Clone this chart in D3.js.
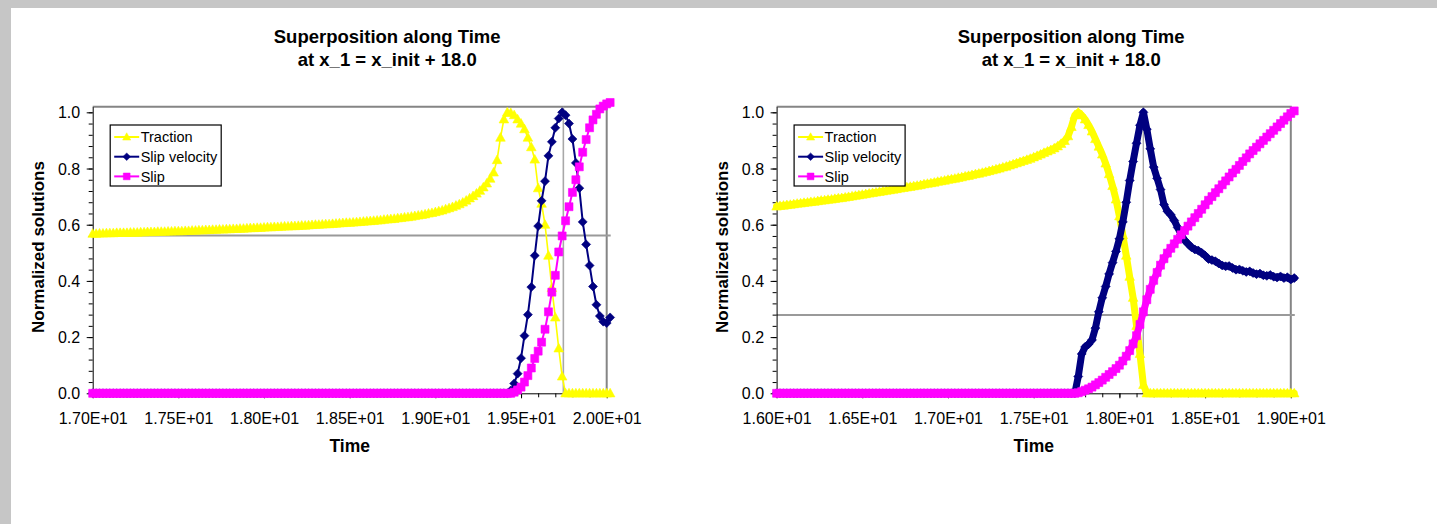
<!DOCTYPE html>
<html><head><meta charset="utf-8">
<script src="https://cdn.jsdelivr.net/npm/d3@7"></script>
<style>
html,body{margin:0;padding:0;background:#fff;overflow:hidden;}
svg{display:block;font-family:"Liberation Sans",Arial,sans-serif;}
</style>
</head><body>
<svg id="c" width="1437" height="524"></svg>
<script>
// ---------------- DATA ----------------
const seriesNames = ["Traction", "Slip velocity", "Slip"];
const chartTitle = ["Superposition along Time", "at x_1 = x_init + 18.0"];
const xAxisTitle = "Time";
const yAxisTitle = "Normalized solutions";

const yTicks = [0, 0.2, 0.4, 0.6, 0.8, 1.0];
const yTickLabels = ["0.0", "0.2", "0.4", "0.6", "0.8", "1.0"];

// left chart: time 17.00 ... 20.02, step 0.02
const leftTimeStart = 17.00;
const leftTimeStep = 0.02;
const leftXTicks = [17.0, 17.5, 18.0, 18.5, 19.0, 19.5, 20.0];
const leftXTickLabels = ["1.70E+01", "1.75E+01", "1.80E+01", "1.85E+01", "1.90E+01", "1.95E+01", "2.00E+01"];
const leftCursor = [19.747, 0.562];

const leftTraction = [
0.568,0.568,0.569,0.569,0.570,0.570,0.570,0.571,0.571,0.571,
0.571,0.572,0.572,0.572,0.573,0.573,0.574,0.574,0.574,0.575,
0.575,0.575,0.576,0.576,0.577,0.577,0.577,0.578,0.578,0.579,
0.579,0.580,0.580,0.581,0.581,0.582,0.582,0.583,0.583,0.584,
0.584,0.585,0.585,0.586,0.586,0.587,0.588,0.588,0.589,0.589,
0.590,0.591,0.591,0.592,0.592,0.593,0.594,0.594,0.595,0.595,
0.596,0.597,0.597,0.598,0.599,0.600,0.600,0.601,0.602,0.602,
0.603,0.604,0.605,0.606,0.607,0.607,0.608,0.609,0.610,0.611,
0.612,0.613,0.614,0.615,0.616,0.618,0.619,0.620,0.621,0.623,
0.624,0.626,0.627,0.629,0.631,0.633,0.635,0.637,0.640,0.642,
0.645,0.648,0.651,0.655,0.659,0.663,0.668,0.673,0.679,0.686,
0.694,0.702,0.711,0.721,0.733,0.747,0.764,0.786,0.830,0.910,
0.975,1.000,0.998,0.990,0.975,0.960,0.940,0.910,0.876,0.832,
0.730,0.675,0.600,0.490,0.375,0.270,0.160,0.060,0.000,0.000,
0,0,0,0,0,0,0,0,0,0,
0,0];

const leftSlipVelocity = [
0,0,0,0,0,0,0,0,0,0, 0,0,0,0,0,0,0,0,0,0, 0,0,0,0,0,0,0,0,0,0,
0,0,0,0,0,0,0,0,0,0, 0,0,0,0,0,0,0,0,0,0, 0,0,0,0,0,0,0,0,0,0,
0,0,0,0,0,0,0,0,0,0, 0,0,0,0,0,0,0,0,0,0, 0,0,0,0,0,0,0,0,0,0,
0,0,0,0,0,0,0,0,0,0, 0,0,0,0,0,0,0,0,0,0, 0,0,0,0,0,0,0,0,0,0,
0,0,0.010,0.035,0.070,0.125,0.205,0.280,0.378,0.490,
0.595,0.685,0.755,0.845,0.895,0.945,0.978,1.000,0.990,0.960,
0.905,0.820,0.730,0.610,0.530,0.455,0.380,0.315,0.275,0.255,
0.250,0.270];

const leftSlip = [
0,0,0,0,0,0,0,0,0,0, 0,0,0,0,0,0,0,0,0,0, 0,0,0,0,0,0,0,0,0,0,
0,0,0,0,0,0,0,0,0,0, 0,0,0,0,0,0,0,0,0,0, 0,0,0,0,0,0,0,0,0,0,
0,0,0,0,0,0,0,0,0,0, 0,0,0,0,0,0,0,0,0,0, 0,0,0,0,0,0,0,0,0,0,
0,0,0,0,0,0,0,0,0,0, 0,0,0,0,0,0,0,0,0,0, 0,0,0,0,0,0,0,0,0,0,
0,0,0,0.004,0.012,0.022,0.040,0.063,0.090,0.124,
0.150,0.182,0.228,0.290,0.360,0.420,0.503,0.560,0.614,0.664,
0.715,0.760,0.806,0.858,0.903,0.945,0.973,0.993,1.012,1.022,
1.030,1.035];

// right chart: time 16.00 ... 19.02, step 0.02
const rightTimeStart = 16.00;
const rightTimeStep = 0.02;
const rightXTicks = [16.0, 16.5, 17.0, 17.5, 18.0, 18.5, 19.0];
const rightXTickLabels = ["1.60E+01", "1.65E+01", "1.70E+01", "1.75E+01", "1.80E+01", "1.85E+01", "1.90E+01"];
const rightCursor = [18.139, 0.279];

const rightTraction = [
0.665,0.667,0.668,0.670,0.671,0.673,0.675,0.676,0.678,0.679,
0.681,0.682,0.684,0.686,0.687,0.689,0.690,0.692,0.694,0.695,
0.697,0.699,0.701,0.703,0.705,0.707,0.709,0.711,0.713,0.715,
0.717,0.719,0.721,0.723,0.725,0.727,0.729,0.731,0.733,0.735,
0.737,0.739,0.741,0.744,0.746,0.748,0.750,0.753,0.755,0.757,
0.760,0.762,0.764,0.767,0.769,0.772,0.774,0.777,0.780,0.782,
0.785,0.788,0.791,0.794,0.797,0.800,0.804,0.807,0.811,0.815,
0.819,0.823,0.827,0.831,0.835,0.840,0.845,0.850,0.856,0.861,
0.866,0.872,0.879,0.888,0.898,0.915,0.948,0.990,1.000,0.990,
0.975,0.955,0.932,0.905,0.878,0.850,0.818,0.780,0.738,0.690,
0.630,0.563,0.490,0.415,0.340,0.240,0.140,0.030,0.000,0.000,
0,0,0,0,0,0,0,0,0,0, 0,0,0,0,0,0,0,0,0,0,
0,0,0,0,0,0,0,0,0,0, 0,0,0,0,0,0,0,0,0,0,
0,0];

const rightSlipVelocity = [
0,0,0,0,0,0,0,0,0,0, 0,0,0,0,0,0,0,0,0,0, 0,0,0,0,0,0,0,0,0,0,
0,0,0,0,0,0,0,0,0,0, 0,0,0,0,0,0,0,0,0,0, 0,0,0,0,0,0,0,0,0,0,
0,0,0,0,0,0,0,0,0,0, 0,0,0,0,0,0,0,0,0,0,
0,0,0,0,0,0,0,0,0.060,0.140,
0.165,0.175,0.190,0.232,0.290,0.340,0.380,0.425,0.465,0.505,
0.550,0.610,0.680,0.757,0.825,0.890,0.954,1.000,0.940,0.870,
0.805,0.765,0.725,0.672,0.648,0.635,0.615,0.590,0.565,0.545,
0.532,0.520,0.512,0.508,0.500,0.490,0.478,0.474,0.470,0.462,
0.455,0.452,0.453,0.446,0.440,0.441,0.436,0.432,0.434,0.428,
0.424,0.426,0.420,0.418,0.421,0.415,0.412,0.416,0.410,0.413,
0.405,0.410];

const rightSlip = [
0,0,0,0,0,0,0,0,0,0, 0,0,0,0,0,0,0,0,0,0, 0,0,0,0,0,0,0,0,0,0,
0,0,0,0,0,0,0,0,0,0, 0,0,0,0,0,0,0,0,0,0, 0,0,0,0,0,0,0,0,0,0,
0,0,0,0,0,0,0,0,0,0, 0,0,0,0,0,0,0,0,0,0,
0,0,0,0,0,0,0,0,0.002,0.006,
0.011,0.016,0.022,0.030,0.038,0.047,0.057,0.067,0.077,0.088,
0.100,0.115,0.132,0.152,0.176,0.205,0.245,0.290,0.333,0.370,
0.402,0.430,0.456,0.479,0.499,0.516,0.532,0.548,0.564,0.579,
0.595,0.610,0.625,0.640,0.655,0.671,0.687,0.700,0.714,0.728,
0.742,0.756,0.770,0.784,0.797,0.811,0.825,0.838,0.852,0.864,
0.876,0.888,0.900,0.912,0.924,0.936,0.948,0.960,0.972,0.984,
0.996,1.005];

// ---------------- STYLE ----------------
const seriesColors = ["#FFFF00", "#000080", "#FF00FF"];
const markerPaths = [
  "M0,-5L4.8,3.6L-4.8,3.6Z",         // triangle
  "M0,-4.5L4.5,0L0,4.5L-4.5,0Z",     // diamond
  "M-4,-4H4V4H-4Z"                   // square
];

const W = 1437, H = 524;
const svg = d3.select("#c");
svg.append("rect").attr("width", W).attr("height", H).attr("fill", "#c6c6c6");
svg.append("rect").attr("x", 11).attr("y", 8).attr("width", W - 11).attr("height", H - 8).attr("fill", "#ffffff");

function drawChart(cfg) {
  const x = d3.scaleLinear().domain(cfg.xDomain).range([cfg.x0, cfg.x1]);
  const y = d3.scaleLinear().domain([0, 1.02]).range([393.3, 106.7]);
  const g = svg.append("g");
  const cx = (cfg.x0 + cfg.x1) / 2;

  // title
  const tt = g.append("text").attr("x", cx + 37.5).attr("text-anchor", "middle")
    .attr("font-weight", "bold").attr("font-size", 18.5).attr("fill", "#000");
  tt.append("tspan").attr("x", cx + 37.5).attr("y", 43).text(chartTitle[0]);
  tt.append("tspan").attr("x", cx + 37.5).attr("y", 66).text(chartTitle[1]);

  // plot border (top/right)
  g.append("path")
    .attr("d", `M${cfg.x0},${y(1.02)}H${cfg.x1}V${y(0)}`)
    .attr("fill", "none").attr("stroke", "#858585").attr("stroke-width", 2);

  // cursor lines
  g.append("line")
    .attr("x1", cfg.x0).attr("x2", cfg.x1 + 4)
    .attr("y1", y(cfg.cursor[1])).attr("y2", y(cfg.cursor[1]))
    .attr("stroke", "#9a9a9a").attr("stroke-width", 2);
  g.append("line")
    .attr("x1", x(cfg.cursor[0])).attr("x2", x(cfg.cursor[0]))
    .attr("y1", y(1.02)).attr("y2", y(0))
    .attr("stroke", cfg.vColor).attr("stroke-width", cfg.vWidth);

  // minor ticks
  const minorX = d3.range(cfg.xDomain[0], cfg.xDomain[1] + 1e-9, 0.1);
  const minorY = d3.range(0, 1.0001, 0.04);
  const mx = g.append("g").attr("transform", `translate(0,${y(0)})`)
    .call(d3.axisBottom(x).tickValues(minorX).tickFormat("").tickSize(4));
  mx.select(".domain").remove();
  mx.selectAll("line").attr("stroke", "#000");
  const my = g.append("g").attr("transform", `translate(${cfg.x0},0)`)
    .call(d3.axisLeft(y).tickValues(minorY).tickFormat("").tickSize(4));
  my.select(".domain").remove();
  my.selectAll("line").attr("stroke", "#000");

  // major axes
  const ax = g.append("g").attr("transform", `translate(0,${y(0)})`)
    .call(d3.axisBottom(x).tickValues(cfg.xTicks).tickFormat((d, i) => cfg.xTickLabels[i])
      .tickSizeInner(5).tickSizeOuter(0));
  ax.select(".domain").attr("stroke", "#000");
  ax.selectAll("line").attr("stroke", "#000");
  ax.selectAll("text").attr("y", 31).attr("dy", 0)
    .attr("font-size", 16).attr("textLength", 69).attr("lengthAdjust", "spacingAndGlyphs")
    .attr("font-family", "Liberation Sans, Arial, sans-serif").attr("fill", "#000");

  const ay = g.append("g").attr("transform", `translate(${cfg.x0},0)`)
    .call(d3.axisLeft(y).tickValues(yTicks).tickFormat((d, i) => yTickLabels[i])
      .tickSizeInner(6).tickSizeOuter(0).tickPadding(6.5));
  ay.select(".domain").attr("stroke", "#000");
  ay.selectAll("line").attr("stroke", "#000");
  ay.selectAll("text").attr("dy", "0.35em")
    .attr("font-size", 16).attr("font-family", "Liberation Sans, Arial, sans-serif").attr("fill", "#000");

  // axis titles
  g.append("text").attr("x", cx).attr("y", 452).attr("text-anchor", "middle")
    .attr("font-weight", "bold").attr("font-size", 17.5).text(xAxisTitle);
  g.append("text").attr("transform", `translate(${cfg.x0 - 55},247) rotate(-90)`)
    .attr("text-anchor", "middle").attr("dy", "0.36em")
    .attr("font-weight", "bold").attr("font-size", 17).text(yAxisTitle);

  // series
  cfg.series.forEach((vals, si) => {
    const pts = vals.map((v, i) => ({ t: cfg.t0 + i * cfg.dt, v: v }));
    const sg = g.append("g");
    sg.append("path").datum(pts)
      .attr("d", d3.line().x(d => x(d.t)).y(d => y(d.v)))
      .attr("fill", "none").attr("stroke", seriesColors[si])
      .attr("stroke-width", cfg.lineWidth[si]).attr("stroke-linejoin", "round").attr("stroke-linecap", "round");
    sg.selectAll("path.m").data(pts).join("path").attr("class", "m")
      .attr("transform", d => `translate(${x(d.t)},${y(d.v)})`)
      .attr("d", markerPaths[si])
      .attr("fill", seriesColors[si]).attr("stroke", seriesColors[si]).attr("stroke-width", 0.6);
  });

  // legend
  const lx = cfg.x0 + 17.5, ly = 125;
  const lg = g.append("g").attr("transform", `translate(${lx},${ly})`);
  lg.append("rect").attr("x", 0).attr("y", 0).attr("width", 111).attr("height", 61)
    .attr("fill", "#fff").attr("stroke", "#000").attr("stroke-width", 1.2);
  seriesNames.forEach((name, i) => {
    const yy = 12 + i * 19.7;
    lg.append("line").attr("x1", 4).attr("x2", 29).attr("y1", yy).attr("y2", yy)
      .attr("stroke", seriesColors[i]).attr("stroke-width", 2);
    lg.append("path").attr("transform", `translate(16.5,${yy}) scale(0.85)`).attr("d", markerPaths[i])
      .attr("fill", seriesColors[i]).attr("stroke", seriesColors[i]).attr("stroke-width", 0.6);
    lg.append("text").attr("x", 30.5).attr("y", yy).attr("dy", "0.36em")
      .attr("font-size", 14.5).attr("fill", "#000").text(name);
  });
}

drawChart({
  x0: 92.7, x1: 606.7, xDomain: [17, 20],
  xTicks: leftXTicks, xTickLabels: leftXTickLabels,
  cursor: leftCursor, vColor: "#a8a8a8", vWidth: 1.6,
  t0: leftTimeStart, dt: leftTimeStep,
  series: [leftTraction, leftSlipVelocity, leftSlip],
  lineWidth: [1.6, 2, 2]
});
drawChart({
  x0: 776.6, x1: 1290.8, xDomain: [16, 19],
  xTicks: rightXTicks, xTickLabels: rightXTickLabels,
  cursor: rightCursor, vColor: "#8a8a8a", vWidth: 1,
  t0: rightTimeStart, dt: rightTimeStep,
  series: [rightTraction, rightSlipVelocity, rightSlip],
  lineWidth: [7, 7, 7]
});
</script>
</body></html>
